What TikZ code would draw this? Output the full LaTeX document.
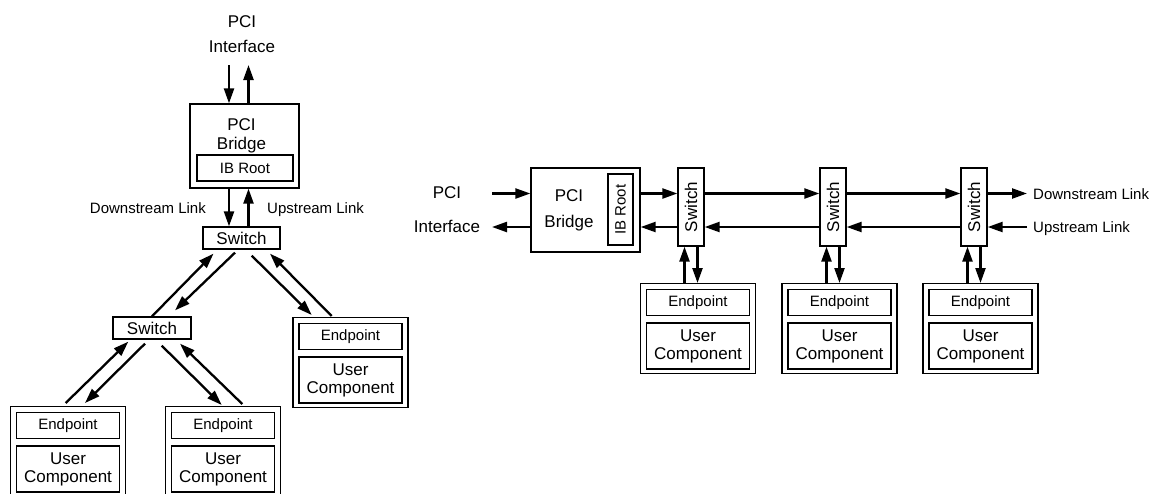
\documentclass[tikz,border=0pt]{standalone}
\usepackage{fontspec}
\usepackage{graphicx}
\setmainfont{Liberation Sans}
\usetikzlibrary{arrows.meta,calc}

% endpoint with user component: name, centre x, top y
\newcommand\epunit[3]{%
  \node[epbox] (#1) at (#2,#3) {};
  \node[epinner] (#1-ep) at ($(#1.north)+(0,6)$) {Endpoint};
  \node[ucinner] (#1-uc) at ($(#1-ep.south)+(0,6)$) {User\\Component};
}

\begin{document}
\begin{tikzpicture}[x=1pt,y=-1pt,
  box/.style={draw,line width=1.3pt,inner sep=0pt,align=center},
  big/.style={font=\fontsize{17}{18}\selectfont},
  small/.style={font=\fontsize{15}{17}\selectfont},
  lbl/.style={inner sep=0pt,align=center},
  link/.style={line width=2.3pt,-{Triangle[length=15pt,width=10pt]}},
  epbox/.style={box,minimum width=115pt,minimum height=90pt,anchor=north},
  epinner/.style={box,small,minimum width=103pt,minimum height=26pt,anchor=north},
  ucinner/.style={box,big,minimum width=103pt,minimum height=46pt,anchor=north}
]
\clip (0,0) rectangle (1152,493);

% ---------------- tree topology ----------------
\node[lbl,font=\fontsize{17}{25}\selectfont] (lpci) at (242,34.3) {PCI\\Interface};
\node[box,minimum width=109pt,minimum height=84pt] (lbr) at (244.5,146) {};
\node[lbl,font=\fontsize{17}{19}\selectfont] (lbrtxt) at (241.5,136.1) {PCI\\Bridge};
\node[box,small,minimum width=96pt,minimum height=26pt] (lib) at (245,168) {IB Root};
\node[box,big,minimum width=77pt,minimum height=22pt] (ls0) at (241.5,238) {Switch};
\node[box,big,minimum width=78pt,minimum height=22pt] (ls1) at (152,328) {Switch};
\epunit{le0}{350.5}{317}
\epunit{le1}{68}{406}
\epunit{le2}{223}{406}

\node[lbl,small,anchor=base east] (ldn) at (206,213) {Downstream Link};
\node[lbl,small,anchor=base west] (lup) at (267,213) {Upstream Link};

\coordinate (lin) at (229,65);
\coordinate (lout) at (248.5,65);
\draw[link] (lin) -- (lin |- lbr.north);
\draw[link] (lout |- lbr.north) -- (lout);
\draw[link] (lin |- lbr.south) -- (lin |- ls0.north);
\draw[link] (lout |- ls0.north) -- (lout |- lbr.south);

% switch to switch
\draw[link] (ls1.north) -- ($(ls0.south)+(-28,4)$);
\draw[link] ($(ls0.south)+(-6.5,3)$) -- ($(ls1.north)+(23,-6)$);
% switch to right endpoint
\draw[link] ($(ls0.south)+(10.2,6)$) -- ($(le0.north)+(-38.8,-2)$);
\draw[link] ($(le0.north)+(-18.8,-1)$) -- ($(ls0.south)+(28.5,4)$);
% lower switch to endpoints
\draw[link] ($(le1.north)+(-2.3,-3)$) -- ($(ls1.south)+(-23.7,2)$);
\draw[link] ($(ls1.south)+(-7,4)$) -- ($(le1.north)+(17,-3)$);
\draw[link] ($(ls1.south)+(9.7,6)$) -- ($(le2.north)+(-1.3,-1)$);
\draw[link] ($(le2.north)+(19.3,-2)$) -- ($(ls1.south)+(28,4)$);

% ---------------- daisy chain topology ----------------
\node[lbl,font=\fontsize{17}{34}\selectfont] (rpci) at (447,209.8) {PCI\\Interface};
\node[box,minimum width=109pt,minimum height=84pt] (rbr) at (585.5,210) {};
\node[lbl,font=\fontsize{17}{26}\selectfont] (rbrtxt) at (569,210.6) {PCI\\Bridge};
\node[box,small,minimum width=25pt,minimum height=71pt] (rib) at (620.5,209.5) {\rotatebox{90}{IB Root}};
\node[box,big,minimum width=26pt,minimum height=78pt] (rs1) at (691,207) {\rotatebox{90}{Switch}};
\node[box,big,minimum width=26pt,minimum height=78pt] (rs2) at (833,207) {\rotatebox{90}{Switch}};
\node[box,big,minimum width=26pt,minimum height=78pt] (rs3) at (974,207) {\rotatebox{90}{Switch}};
\epunit{re1}{698}{283}
\epunit{re2}{839.5}{283}
\epunit{re3}{980.5}{283}

\node[lbl,small,anchor=base west] (rdn) at (1033,199) {Downstream Link};
\node[lbl,small,anchor=base west] (rup) at (1033,232.5) {Upstream Link};

\coordinate (rtop) at (0,193.5);
\coordinate (rbot) at (0,227);
\coordinate (rin) at (492,193.5);
\coordinate (rout) at (492,227);
\coordinate (rdnend) at (1027,193.5);
\coordinate (rupend) at (1027,227);

\draw[link] (rin) -- (rbr.west |- rtop);
\draw[link] (rbr.west |- rbot) -- (rout);
\draw[link] (rbr.east |- rtop) -- (rs1.west |- rtop);
\draw[link] (rs1.west |- rbot) -- (rbr.east |- rbot);
\draw[link] (rs1.east |- rtop) -- (rs2.west |- rtop);
\draw[link] (rs2.west |- rbot) -- (rs1.east |- rbot);
\draw[link] (rs2.east |- rtop) -- (rs3.west |- rtop);
\draw[link] (rs3.west |- rbot) -- (rs2.east |- rbot);
\draw[link] (rs3.east |- rtop) -- (rdnend);
\draw[link] (rupend) -- (rs3.east |- rbot);

\foreach \i in {1,2,3} {
  \draw[link] ($(rs\i.south |- re\i.north)+(-6.5,0)$) -- ($(rs\i.south)+(-6.5,0)$);
  \draw[link] ($(rs\i.south)+(6.5,0)$) -- ($(rs\i.south |- re\i.north)+(6.5,0)$);
}
\end{tikzpicture}
\end{document}
